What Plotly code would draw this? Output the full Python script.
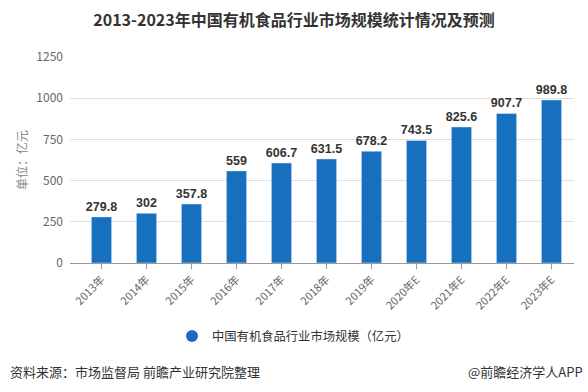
import plotly.graph_objects as go

categories = ["2013年", "2014年", "2015年", "2016年", "2017年", "2018年", "2019年",
              "2020年E", "2021年E", "2022年E", "2023年E"]
values = [279.8, 302, 357.8, 559, 606.7, 631.5, 678.2, 743.5, 825.6, 907.7, 989.8]
labels = ["279.8", "302", "357.8", "559", "606.7", "631.5", "678.2", "743.5", "825.6", "907.7", "989.8"]
series_name = "中国有机食品行业市场规模（亿元）"
y_ticks = [0, 250, 500, 750, 1000, 1250]

FONT = "Noto Sans CJK SC"
BAR = "#1670BE"

fig = go.Figure()
fig.add_trace(go.Bar(
    x=categories, y=values, text=labels, textposition="outside",
    constraintext="none",
    textfont=dict(family="Liberation Sans", size=12.5, color="#333333", weight="bold"),
    marker=dict(color=BAR), width=0.45, showlegend=False, cliponaxis=False,
))
fig.add_trace(go.Scatter(
    x=[None], y=[None], mode="markers", name=series_name,
    marker=dict(symbol="circle", size=12, color=BAR), showlegend=True,
))

fig.update_layout(
    width=588, height=392,
    margin=dict(l=70, r=14, t=57, b=129, autoexpand=False),
    paper_bgcolor="white", plot_bgcolor="white",
    font=dict(family=FONT, color="#666666"),
    title=dict(text="<b>2013-2023年中国有机食品行业市场规模统计情况及预测</b>",
               x=0.5, xanchor="center", y=1 - 20 / 392, yanchor="middle",
               font=dict(family=FONT, size=16, color="#333333")),
    legend=dict(orientation="h", xref="container", x=(192 - 20) / 588, xanchor="left",
                yref="container", y=1 - 336 / 392, yanchor="middle",
                font=dict(family=FONT, size=12.3, color="#333333")),
    xaxis=dict(type="category", range=[-0.7, 10.5], tickangle=-45, automargin=False,
               tickfont=dict(family=FONT, size=11, color="#666666"),
               showline=True, linecolor="#999999", linewidth=1,
               ticks="outside", ticklen=5, tickcolor="#999999",
               showgrid=False),
    yaxis=dict(range=[0, 1250], tickvals=y_ticks, automargin=False,
               tickfont=dict(family=FONT, size=12, color="#666666"),
               gridcolor="#e0e0e0", zeroline=False, showline=False,
               ticks="", ticklabelstandoff=6,
               title=dict(text="单位：亿元", font=dict(family=FONT, size=12, color="#888888"),
                          standoff=6)),
    annotations=[
        dict(text="资料来源：市场监督局 前瞻产业研究院整理", xref="paper", yref="paper",
             x=-62 / 504, xanchor="left", y=-108 / 206, yanchor="middle", showarrow=False,
             font=dict(family=FONT, size=13, color="#333333")),
        dict(text="@前瞻经济学人APP", xref="paper", yref="paper",
             x=1 + 11 / 504, xanchor="right", y=-108 / 206, yanchor="middle", showarrow=False,
             font=dict(family=FONT, size=13, color="#333333")),
    ],
)

fig.write_html("out.html", config={"displayModeBar": False},
               post_script="document.body.style.margin='0';document.body.style.overflow='hidden';")
